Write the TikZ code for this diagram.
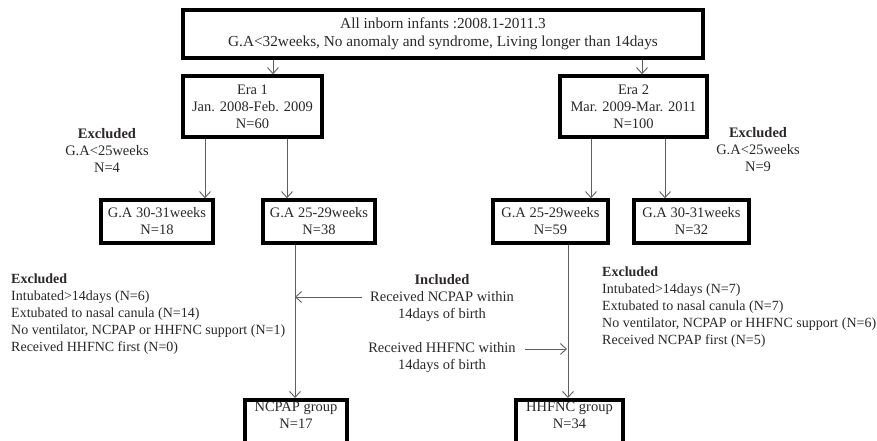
\documentclass[tikz,border=0pt]{standalone}
\usepackage{fontspec}
\setmainfont{Liberation Serif}
\usetikzlibrary{arrows.meta}
\definecolor{txt}{RGB}{45,40,40}
\definecolor{ln}{RGB}{95,95,95}
\tikzset{
  box/.style={draw=black, line width=3.6pt, fill=white, minimum width=#1, inner sep=0pt, align=center, text=txt},
  lbl/.style={inner sep=0pt, text=txt},
  listtxt/.style={lbl, align=left, anchor=west, font=\fontsize{14}{17}\selectfont},
  arr/.style={draw=ln, line width=1pt, -{Straight Barb[length=6pt,width=11pt,line width=0.9pt]}},
}
\begin{document}
\begin{tikzpicture}[x=1pt,y=-1pt,font=\fontsize{14.5}{17}\selectfont]
\useasboundingbox (0,0) rectangle (877,440);
\clip (0,0) rectangle (877,440);
\fill[white] (0,0) rectangle (877,440);
% boxes
\node[box=520pt, minimum height=48pt, font=\fontsize{15.3}{18}\selectfont] (top) at (443,34) {All inborn infants :2008.1-2011.3\\G.A<32weeks, No anomaly and syndrome, Living longer than 14days};
\node[box=139pt, minimum height=61pt] (era1) at (252.5,106.5) {Era 1\\Jan. 2008-Feb. 2009\\N=60};
\node[box=147pt, minimum height=61pt] (era2) at (633.5,106.5) {Era 2\\Mar. 2009-Mar. 2011\\N=100};
\node[box=112pt, minimum height=43pt] (l3031) at (157,221.5) {G.A 30-31weeks\\N=18};
\node[box=112pt, minimum height=43pt] (l2529) at (319,221.5) {G.A 25-29weeks\\N=38};
\node[box=115pt, minimum height=43pt] (r2529) at (550.5,221.5) {G.A 25-29weeks\\N=59};
\node[box=115pt, minimum height=43pt] (r3031) at (691.5,221.5) {G.A 30-31weeks\\N=32};
\node[box=102pt, minimum height=64pt, anchor=north] (ncpap) at (296,398) {NCPAP group\\N=17\\[16pt]};
\node[box=107pt, minimum height=64pt, anchor=north] (hhfnc) at (569.5,398) {HHFNC group\\N=34\\[16pt]};
% text blocks
\node[lbl, align=center] (exl) at (107,150) {\textbf{Excluded}\\G.A<25weeks\\N=4};
\node[lbl, align=center] (exr) at (758,150) {\textbf{Excluded}\\G.A<25weeks\\N=9};
\node[listtxt] (exl2) at (11,314) {\textbf{Excluded}\\Intubated>14days (N=6)\\Extubated to nasal canula (N=14)\\No ventilator, NCPAP or HHFNC support (N=1)\\Received HHFNC first (N=0)};
\node[listtxt] (exr2) at (602,307.5) {\textbf{Excluded}\\Intubated>14days (N=7)\\Extubated to nasal canula (N=7)\\No ventilator, NCPAP or HHFNC support (N=6)\\Received NCPAP first (N=5)};
\node[lbl, align=center] (inc) at (442,298) {\textbf{Included}\\Received NCPAP within\\14days of birth};
\node[lbl, align=center] (inh) at (442,357.5) {Received HHFNC within\\14days of birth};
% x positions
\coordinate (x1) at (273,0);
\coordinate (x2) at (642,0);
\coordinate (x3) at (205,0);
\coordinate (x4) at (287,0);
\coordinate (x5) at (591,0);
\coordinate (x6) at (665,0);
\coordinate (x7) at (295,0);
\coordinate (x8) at (568,0);
\coordinate (incS) at (362,297);
\coordinate (incE) at (295,297);
\coordinate (inhS) at (525,349);
\coordinate (inhE) at (567,349);
% connectors
\draw[arr] (top.south -| x1) -- (era1.north -| x1);
\draw[arr] (top.south -| x2) -- (era2.north -| x2);
\draw[arr] (era1.south -| x3) -- (l3031.north -| x3);
\draw[arr] (era1.south -| x4) -- (l2529.north -| x4);
\draw[arr] (era2.south -| x5) -- (r2529.north -| x5);
\draw[arr] (era2.south -| x6) -- (r3031.north -| x6);
\draw[arr] (l2529.south -| x7) -- (ncpap.north -| x7);
\draw[arr] (r2529.south -| x8) -- (hhfnc.north -| x8);
\draw[arr] (incS) -- (incE);
\draw[arr] (inhS) -- (inhE);
\end{tikzpicture}
\end{document}
